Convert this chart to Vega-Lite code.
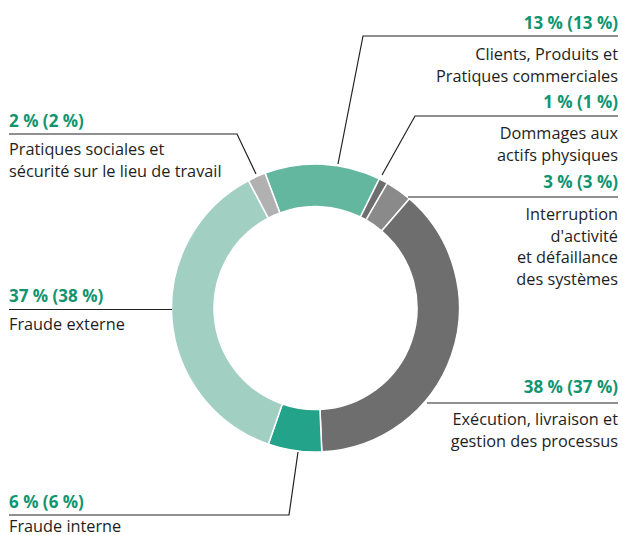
{
  "$schema": "https://vega.github.io/schema/vega-lite/v6.json",
  "width": 623,
  "height": 535,
  "autosize": {"type": "none"},
  "padding": 0,
  "background": "white",
  "config": {"view": {"stroke": null}},
  "datasets": {
    "segments": [
      {"idx": 1, "cat": "Clients, Produits et Pratiques commerciales", "value": 13},
      {"idx": 2, "cat": "Dommages aux actifs physiques", "value": 1},
      {"idx": 3, "cat": "Interruption d'activité et défaillance des systèmes", "value": 3},
      {"idx": 4, "cat": "Exécution, livraison et gestion des processus", "value": 38},
      {"idx": 5, "cat": "Fraude interne", "value": 6},
      {"idx": 6, "cat": "Fraude externe", "value": 37},
      {"idx": 7, "cat": "Pratiques sociales et sécurité sur le lieu de travail", "value": 2}
    ],
    "leaders": [
      {"id": "c", "seq": 1, "x": 302.5, "y": -272},
      {"id": "c", "seq": 2, "x": 47.5, "y": -272},
      {"id": "c", "seq": 3, "x": 22.5, "y": -144},
      {"id": "d", "seq": 1, "x": 302.5, "y": -192},
      {"id": "d", "seq": 2, "x": 99.5, "y": -192},
      {"id": "d", "seq": 3, "x": 66.5, "y": -133},
      {"id": "i", "seq": 1, "x": 302.5, "y": -111},
      {"id": "i", "seq": 2, "x": 92.5, "y": -111},
      {"id": "e", "seq": 1, "x": 302.5, "y": 95},
      {"id": "e", "seq": 2, "x": 111.5, "y": 95},
      {"id": "fi", "seq": 1, "x": -306.5, "y": 207},
      {"id": "fi", "seq": 2, "x": -26.5, "y": 207},
      {"id": "fi", "seq": 3, "x": -17.5, "y": 144},
      {"id": "fe", "seq": 1, "x": -306.5, "y": 1.5},
      {"id": "fe", "seq": 2, "x": -143.5, "y": 1.5},
      {"id": "p", "seq": 1, "x": -306.5, "y": -174},
      {"id": "p", "seq": 2, "x": -78.5, "y": -174},
      {"id": "p", "seq": 3, "x": -59.5, "y": -134}
    ],
    "labels": [
      {"side": "right", "kind": "pct", "x": 302.5, "y": -279, "text": "13 % (13 %)"},
      {"side": "right", "kind": "name", "x": 302.5, "y": -248, "text": "Clients, Produits et\nPratiques commerciales"},
      {"side": "right", "kind": "pct", "x": 302.5, "y": -200, "text": "1 % (1 %)"},
      {"side": "right", "kind": "name", "x": 302.5, "y": -169, "text": "Dommages aux\nactifs physiques"},
      {"side": "right", "kind": "pct", "x": 302.5, "y": -120, "text": "3 % (3 %)"},
      {"side": "right", "kind": "name", "x": 302.5, "y": -88, "text": "Interruption\nd'activité\net défaillance\ndes systèmes"},
      {"side": "right", "kind": "pct", "x": 302.5, "y": 85, "text": "38 % (37 %)"},
      {"side": "right", "kind": "name", "x": 302.5, "y": 117, "text": "Exécution, livraison et\ngestion des processus"},
      {"side": "left", "kind": "pct", "x": -306.5, "y": -181, "text": "2 % (2 %)"},
      {"side": "left", "kind": "name", "x": -306.5, "y": -153, "text": "Pratiques sociales et\nsécurité sur le lieu de travail"},
      {"side": "left", "kind": "pct", "x": -306.5, "y": -6, "text": "37 % (38 %)"},
      {"side": "left", "kind": "name", "x": -306.5, "y": 22, "text": "Fraude externe"},
      {"side": "left", "kind": "pct", "x": -306.5, "y": 200, "text": "6 % (6 %)"},
      {"side": "left", "kind": "name", "x": -306.5, "y": 224, "text": "Fraude interne"}
    ]
  },
  "layer": [
    {
      "data": {"name": "segments"},
      "mark": {"type": "arc", "radius": 144, "radius2": 101.5, "stroke": "white", "strokeWidth": 1.5},
      "encoding": {
        "x": {"datum": 0, "type": "quantitative", "scale": {"domain": [-315.5, 307.5], "nice": false, "zero": false}, "axis": null},
        "y": {"datum": 0, "type": "quantitative", "scale": {"domain": [-308, 227], "nice": false, "zero": false, "reverse": true}, "axis": null},
        "theta": {"field": "value", "type": "quantitative", "stack": true, "scale": {"range": [-0.358, 5.925]}},
        "order": {"field": "idx", "type": "quantitative"},
        "color": {
          "field": "cat", "type": "nominal", "legend": null,
          "scale": {
            "domain": [
              "Clients, Produits et Pratiques commerciales",
              "Dommages aux actifs physiques",
              "Interruption d'activité et défaillance des systèmes",
              "Exécution, livraison et gestion des processus",
              "Fraude interne",
              "Fraude externe",
              "Pratiques sociales et sécurité sur le lieu de travail"
            ],
            "range": ["#64b79f", "#6e6e6e", "#8a8a8a", "#6e6e6e", "#22a38a", "#a1cfc2", "#b1b1b1"]
          }
        }
      }
    },
    {
      "data": {"name": "leaders"},
      "mark": {"type": "line", "color": "#222222", "strokeWidth": 1.2},
      "encoding": {
        "x": {"field": "x", "type": "quantitative", "scale": {"domain": [-315.5, 307.5], "nice": false, "zero": false}, "axis": null},
        "y": {"field": "y", "type": "quantitative", "scale": {"domain": [-308, 227], "nice": false, "zero": false, "reverse": true}, "axis": null},
        "detail": {"field": "id", "type": "nominal"},
        "order": {"field": "seq", "type": "quantitative"}
      }
    },
    {
      "data": {"name": "labels"},
      "transform": [{"filter": "datum.side == 'right' && datum.kind == 'pct'"}],
      "mark": {"type": "text", "align": "right", "baseline": "alphabetic", "font": "Open Sans", "fontSize": 17, "fontWeight": "bold", "color": "#10956f"},
      "encoding": {
        "x": {"field": "x", "type": "quantitative", "scale": {"domain": [-315.5, 307.5], "nice": false, "zero": false}, "axis": null},
        "y": {"field": "y", "type": "quantitative", "scale": {"domain": [-308, 227], "nice": false, "zero": false, "reverse": true}, "axis": null},
        "text": {"field": "text"}
      }
    },
    {
      "data": {"name": "labels"},
      "transform": [{"filter": "datum.side == 'right' && datum.kind == 'name'"}],
      "mark": {"type": "text", "align": "right", "baseline": "alphabetic", "font": "Open Sans", "fontSize": 16.3, "fontWeight": 500, "color": "#1e1e1e", "lineBreak": "\n", "lineHeight": 21.5},
      "encoding": {
        "x": {"field": "x", "type": "quantitative", "scale": {"domain": [-315.5, 307.5], "nice": false, "zero": false}, "axis": null},
        "y": {"field": "y", "type": "quantitative", "scale": {"domain": [-308, 227], "nice": false, "zero": false, "reverse": true}, "axis": null},
        "text": {"field": "text"}
      }
    },
    {
      "data": {"name": "labels"},
      "transform": [{"filter": "datum.side == 'left' && datum.kind == 'pct'"}],
      "mark": {"type": "text", "align": "left", "baseline": "alphabetic", "font": "Open Sans", "fontSize": 17, "fontWeight": "bold", "color": "#10956f"},
      "encoding": {
        "x": {"field": "x", "type": "quantitative", "scale": {"domain": [-315.5, 307.5], "nice": false, "zero": false}, "axis": null},
        "y": {"field": "y", "type": "quantitative", "scale": {"domain": [-308, 227], "nice": false, "zero": false, "reverse": true}, "axis": null},
        "text": {"field": "text"}
      }
    },
    {
      "data": {"name": "labels"},
      "transform": [{"filter": "datum.side == 'left' && datum.kind == 'name'"}],
      "mark": {"type": "text", "align": "left", "baseline": "alphabetic", "font": "Open Sans", "fontSize": 16.3, "fontWeight": 500, "color": "#1e1e1e", "lineBreak": "\n", "lineHeight": 21.5},
      "encoding": {
        "x": {"field": "x", "type": "quantitative", "scale": {"domain": [-315.5, 307.5], "nice": false, "zero": false}, "axis": null},
        "y": {"field": "y", "type": "quantitative", "scale": {"domain": [-308, 227], "nice": false, "zero": false, "reverse": true}, "axis": null},
        "text": {"field": "text"}
      }
    }
  ]
}
